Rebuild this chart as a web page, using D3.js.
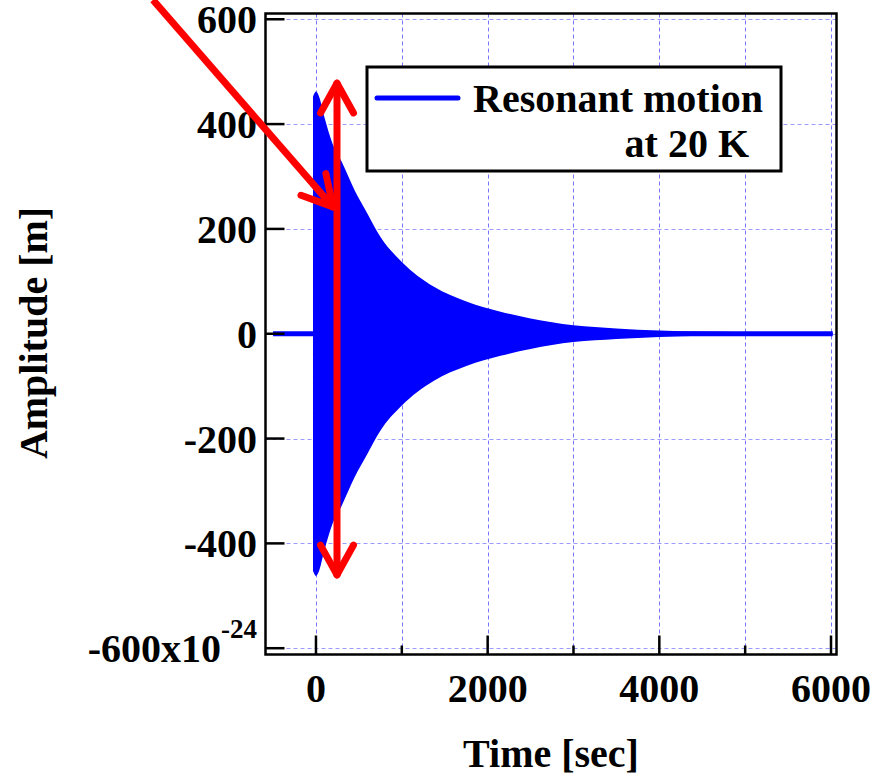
<!DOCTYPE html>
<html>
<head>
<meta charset="utf-8">
<script src="https://cdn.jsdelivr.net/npm/d3@7"></script>
<style>
  html, body { margin: 0; padding: 0; background: #fff; }
  svg { display: block; }
  text { font-family: "Liberation Serif", "Times New Roman", serif; font-weight: bold; fill: #000; }
</style>
</head>
<body>
<svg id="chart" width="888" height="780"></svg>
<script>
// ---- data ----
// flat baseline before excitation, then the decaying resonant oscillation envelope (x1e-24 m)
const baselineTime = [-500, 6020];
const baselineAmp = [0, 0];
const timeSec = [-35, 0, 30, 100, 190, 300, 450, 600, 750, 1000, 1370, 1760, 2150, 2500, 3000, 3500, 4000, 5000, 6020];
const envelopeAmp = [452, 462, 455, 412, 364, 328, 274, 229, 185, 137, 90, 61, 42, 29, 16, 10, 6, 3, 2];
const xTicksMajor = [0, 2000, 4000, 6000];
const xTicksMinor = [1000, 3000, 5000];
const xGrid = [0, 1000, 2000, 3000, 4000, 5000, 6000];
const yTicks = [-600, -400, -200, 0, 200, 400, 600];
const yTickLabels = ["-600x10", "-400", "-200", "0", "200", "400", "600"];
const yExponent = "-24";
const seriesName = ["Resonant motion", "at 20 K"];
const xTitle = "Time [sec]";
const yTitle = "Amplitude [m]";
// annotation arrows in data units [time, amplitude]
const arrowDiagonal = [[-1899, 637], [198, 242]];
const arrowVertical = [[245, 478], [245, -460]];

// ---- layout ----
const svg = d3.select("#chart");
const pL = 265.5, pR = 836.5, pT = 13.5, pB = 654.5;
const x = d3.scaleLinear().domain([-588, 6064]).range([pL, pR]);
const y = d3.scaleLinear().domain([-612, 611]).range([pB, pT]);

svg.append("defs").append("clipPath").attr("id", "plotclip")
  .append("rect").attr("x", pL).attr("y", pT).attr("width", pR - pL).attr("height", pB - pT);

// grid
const grid = svg.append("g").attr("stroke", "#7878ff").attr("stroke-width", 1).attr("stroke-dasharray", "4,3").attr("fill", "none");
grid.selectAll("line.v").data(xGrid).enter().append("line")
  .attr("x1", d => Math.round(x(d)) + 0.5).attr("x2", d => Math.round(x(d)) + 0.5)
  .attr("y1", pT).attr("y2", pB);
grid.selectAll("line.h").data(yTicks).enter().append("line")
  .attr("stroke", "#9a9aff")
  .attr("x1", pL).attr("x2", pR)
  .attr("y1", d => Math.round(y(d)) + 0.5).attr("y2", d => Math.round(y(d)) + 0.5);

// series
const plot = svg.append("g").attr("clip-path", "url(#plotclip)");
const env = timeSec.map((t, i) => ({ t, a: envelopeAmp[i] }));
plot.append("path").datum(env)
  .attr("fill", "#0000ff")
  .attr("d", d3.area().curve(d3.curveMonotoneX).x(d => x(d.t)).y0(d => y(-d.a)).y1(d => y(d.a)));
plot.append("path").datum(baselineTime.map((t, i) => ({ t, a: baselineAmp[i] })))
  .attr("fill", "none").attr("stroke", "#0000ff").attr("stroke-width", 5)
  .attr("d", d3.line().x(d => x(d.t)).y(d => y(d.a)));

// frame
svg.append("rect").attr("x", pL).attr("y", pT).attr("width", pR - pL).attr("height", pB - pT)
  .attr("fill", "none").attr("stroke", "#000").attr("stroke-width", 2.5);

// ticks
const ticks = svg.append("g").attr("stroke", "#000").attr("stroke-width", 2.5);
ticks.selectAll("line.ym").data(yTicks).enter().append("line")
  .attr("x1", pL).attr("x2", pL + 19)
  .attr("y1", d => y(d)).attr("y2", d => y(d));
ticks.selectAll("line.xm").data(xTicksMajor).enter().append("line")
  .attr("x1", d => x(d)).attr("x2", d => x(d))
  .attr("y1", pB).attr("y2", pB - 19);
ticks.selectAll("line.xn").data(xTicksMinor).enter().append("line")
  .attr("x1", d => x(d)).attr("x2", d => x(d))
  .attr("y1", pB).attr("y2", pB - 9);

// tick labels
const fs = 40;
svg.selectAll("text.xl").data(xTicksMajor).enter().append("text")
  .attr("x", d => x(d)).attr("y", 702).attr("text-anchor", "middle")
  .attr("font-size", fs).text(d => d);
const yl = svg.selectAll("text.yl").data(yTicks).enter().append("text")
  .attr("x", 257).attr("y", d => y(d) + 14).attr("text-anchor", "end")
  .attr("font-size", fs);
yl.each(function(d, i) {
  const t = d3.select(this);
  t.append("tspan").text(yTickLabels[i]);
  if (i === 0) {
    t.append("tspan").attr("font-size", 27).attr("dy", -24).text(yExponent);
  }
});

// axis titles
svg.append("text").attr("x", (pL + pR) / 2).attr("y", 767).attr("text-anchor", "middle")
  .attr("font-size", fs).text(xTitle);
svg.append("text").attr("transform", "translate(47,333) rotate(-90)").attr("text-anchor", "middle")
  .attr("font-size", fs).text(yTitle);

// legend
const lg = svg.append("g");
lg.append("rect").attr("x", 367).attr("y", 67).attr("width", 414).attr("height", 104)
  .attr("fill", "#fff").attr("stroke", "#000").attr("stroke-width", 3);
lg.append("line").attr("x1", 377).attr("x2", 458).attr("y1", 98).attr("y2", 98)
  .attr("stroke", "#0000ff").attr("stroke-width", 5).attr("stroke-linecap", "round");
lg.append("text").attr("x", 473).attr("y", 112).attr("font-size", fs).text(seriesName[0]);
lg.append("text").attr("x", 749).attr("y", 157).attr("text-anchor", "end").attr("font-size", fs).text(seriesName[1]);

// annotation arrows
function arrow(p0, p1, heads) {
  const g = svg.append("g").attr("stroke", "#ff0000").attr("stroke-width", 7)
    .attr("stroke-linecap", "round").attr("fill", "none");
  const a = [x(p0[0]), y(p0[1])], b = [x(p1[0]), y(p1[1])];
  g.append("line").attr("x1", a[0]).attr("y1", a[1]).attr("x2", b[0]).attr("y2", b[1]).attr("stroke-linecap", "butt");
  const head = (tip, from) => {
    const ang = Math.atan2(tip[1] - from[1], tip[0] - from[0]);
    const L = 34, spread = Math.PI / 6.2;
    [ang + Math.PI - spread, ang + Math.PI + spread].forEach(q => {
      g.append("line").attr("x1", tip[0]).attr("y1", tip[1])
        .attr("x2", tip[0] + L * Math.cos(q)).attr("y2", tip[1] + L * Math.sin(q));
    });
  };
  head(b, a);
  if (heads === 2) head(a, b);
}
arrow(arrowDiagonal[0], arrowDiagonal[1], 1);
arrow(arrowVertical[0], arrowVertical[1], 2);
</script>
</body>
</html>
